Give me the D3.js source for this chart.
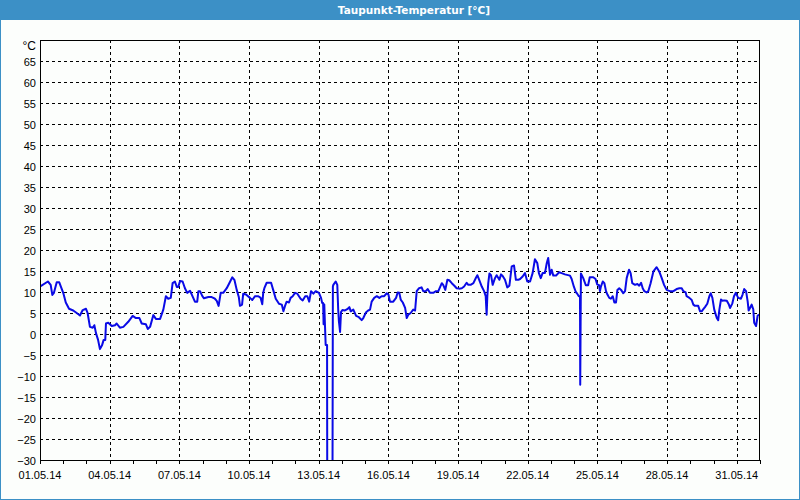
<!DOCTYPE html>
<html><head><meta charset="utf-8">
<script src="https://cdn.jsdelivr.net/npm/d3@7"></script>
<style>
html,body{margin:0;padding:0;background:#fcfefc;}
svg{display:block;}
text{font-family:"Liberation Sans",Arial,sans-serif;}
</style></head>
<body>
<svg id="chart" width="800" height="500"></svg>
<script>
const chartTitle = "Taupunkt-Temperatur [°C]";
const unitLabel = "°C";
// day of May 2014 (fractional), dew point °C
const dayOfMay = [1.03,1.34,1.46,1.53,1.60,1.72,1.83,2.00,2.11,2.25,2.43,2.58,2.72,2.84,2.98,3.05,3.15,3.27,3.34,3.41,3.50,3.58,3.67,3.74,3.81,3.84,3.94,4.09,4.23,4.30,4.44,4.59,4.80,4.99,5.13,5.28,5.38,5.56,5.64,5.74,5.88,5.99,6.17,6.31,6.42,6.52,6.63,6.71,6.81,6.89,6.95,7.03,7.14,7.24,7.34,7.46,7.54,7.67,7.77,7.82,7.89,7.99,8.06,8.25,8.39,8.53,8.61,8.69,8.78,8.89,9.04,9.15,9.28,9.37,9.47,9.56,9.61,9.70,9.75,9.87,10.04,10.14,10.26,10.40,10.50,10.57,10.61,10.66,10.76,10.95,11.04,11.15,11.29,11.41,11.48,11.55,11.62,11.72,11.79,11.88,11.98,12.08,12.22,12.31,12.42,12.51,12.59,12.67,12.77,12.87,13.01,13.10,13.15,13.19,13.21,13.24,13.27,13.30,13.36,13.37,13.59,13.61,13.63,13.73,13.80,13.84,13.87,13.92,13.96,14.02,14.13,14.23,14.32,14.38,14.49,14.61,14.73,14.85,14.92,15.04,15.13,15.21,15.28,15.39,15.50,15.61,15.71,15.82,15.93,16.00,16.07,16.21,16.33,16.40,16.47,16.53,16.62,16.72,16.79,16.86,16.96,17.07,17.15,17.22,17.32,17.43,17.50,17.61,17.69,17.79,17.93,18.05,18.15,18.30,18.36,18.45,18.54,18.62,18.73,18.84,18.94,19.04,19.16,19.26,19.37,19.44,19.54,19.66,19.77,19.83,19.91,20.02,20.12,20.19,20.23,20.26,20.30,20.35,20.42,20.49,20.59,20.66,20.78,20.85,20.92,21.02,21.12,21.21,21.31,21.41,21.49,21.59,21.67,21.78,21.88,21.98,22.10,22.21,22.31,22.41,22.48,22.56,22.64,22.74,22.82,22.88,22.96,23.03,23.10,23.22,23.35,23.46,23.60,23.82,23.89,23.99,24.07,24.13,24.20,24.25,24.26,24.29,24.39,24.50,24.60,24.67,24.82,24.92,24.99,25.07,25.11,25.15,25.23,25.30,25.37,25.43,25.51,25.58,25.66,25.73,25.80,25.86,25.94,26.02,26.11,26.19,26.26,26.36,26.43,26.50,26.62,26.72,26.80,26.88,26.95,27.02,27.12,27.19,27.29,27.41,27.55,27.66,27.77,27.87,27.98,28.12,28.27,28.41,28.53,28.63,28.70,28.80,28.84,28.96,29.06,29.13,29.20,29.34,29.42,29.49,29.56,29.63,29.73,29.82,29.88,29.95,30.03,30.14,30.20,30.25,30.32,30.39,30.46,30.57,30.66,30.71,30.81,30.88,30.96,31.06,31.18,31.25,31.32,31.40,31.47,31.51,31.57,31.64,31.71,31.75,31.83,31.90,31.97];
const dewPoint = [11.4,12.5,11.7,9.3,9.8,12.3,12.3,9.8,7.5,6.0,5.6,5.0,4.4,5.7,6.0,5.0,1.7,1.5,2.1,0.2,-1.4,-3.6,-2.7,-1.4,-1.4,2.5,2.7,1.9,2.1,2.5,1.5,1.7,2.9,4.3,3.8,3.8,2.5,2.3,1.2,1.7,4.5,3.6,3.6,5.8,9.0,8.4,8.6,12.1,12.5,11.2,11.2,12.6,12.5,10.9,9.8,10.3,9.3,7.7,7.7,10.2,10.2,9.0,8.5,8.8,8.8,8.4,7.9,6.7,9.8,9.8,10.9,12.1,13.5,12.9,10.5,8.8,6.7,7.0,9.6,9.4,8.6,8.1,9.0,9.0,8.6,7.1,9.8,10.9,12.2,12.2,10.5,8.4,7.2,7.0,5.4,6.7,7.7,7.5,8.6,9.0,9.8,9.6,8.4,8.0,9.0,9.0,7.7,10.2,9.6,10.2,9.8,8.6,7.4,7.4,2.3,7.0,2.0,-2.6,-2.6,-45,-45,11.3,11.7,12.5,11.7,5.7,3.0,0.5,5.2,5.7,5.6,5.9,6.4,5.4,5.8,4.3,4.0,3.3,3.8,5.2,5.6,5.8,7.7,8.6,9.0,8.6,9.0,9.0,9.7,9.4,7.7,7.7,8.6,9.9,9.8,8.2,7.5,6.2,3.8,4.6,5.0,5.8,5.6,10.2,10.9,11.1,10.2,10.2,10.7,9.8,9.8,10.2,10.2,12.1,11.7,10.5,12.9,12.8,12.1,11.5,10.9,10.8,10.9,11.3,12.2,11.7,11.7,12.1,13.4,14.0,12.9,11.3,10.2,9.0,4.6,9.0,12.1,14.4,14.0,11.7,13.3,14.0,12.9,14.2,13.8,12.9,11.1,11.5,16.1,16.3,12.9,12.9,13.1,13.7,14.5,12.5,12.5,14.5,17.8,16.9,14.5,13.3,14.5,14.5,16.9,18.1,14.1,15.3,13.9,13.9,14.7,14.5,14.2,13.9,13.1,11.2,10.0,9.6,9.0,9.0,-12.1,14.4,13.3,11.6,11.6,13.5,13.5,13.1,11.8,11.6,10.2,11.3,12.5,12.1,10.2,9.4,8.6,8.4,9.0,7.5,7.5,10.5,10.9,10.5,9.7,10.2,13.3,15.3,14.5,12.1,11.7,11.9,11.5,12.2,10.9,10.2,9.9,10.2,12.1,14.9,15.9,14.9,13.3,11.7,10.5,10.2,10.2,10.7,10.9,10.9,10.2,9.9,9.0,8.6,8.1,7.0,6.7,6.7,5.4,5.4,5.9,6.4,7.2,9.0,9.7,8.6,5.8,3.8,3.3,5.8,8.2,7.9,8.0,7.9,7.0,6.2,7.3,9.0,9.8,8.6,8.4,9.4,10.7,10.2,7.7,5.6,6.2,7.0,5.9,2.7,1.9,4.4,4.6];
const yTicks = [65,60,55,50,45,40,35,30,25,20,15,10,5,0,-5,-10,-15,-20,-25,-30];
const xTickLabels = ["01.05.14","04.05.14","07.05.14","10.05.14","13.05.14","16.05.14","19.05.14","22.05.14","25.05.14","28.05.14","31.05.14"];
const yDomain = [-30, 70];

const W = 800, H = 500;
const m = {left:40, right:40, top:40, bottom:40};
const svg = d3.select("#chart");

const start = new Date(2014,4,1), end = new Date(2014,5,1);
const toDate = d => new Date(start.getTime() + (d-1)*86400000);
const parseLabel = s => { const [dd,mm,yy] = s.split("."); return new Date(2000+ +yy, +mm-1, +dd); };

const x = d3.scaleTime().domain([start,end]).range([m.left, W-m.right]);
const y = d3.scaleLinear().domain(yDomain).range([H-m.bottom, m.top]);

// background & frame
svg.append("rect").attr("x",0).attr("y",0).attr("width",W).attr("height",H).attr("fill","#fcfefc");
svg.append("rect").attr("x",0.5).attr("y",0.5).attr("width",W-1).attr("height",H-1)
  .attr("fill","none").attr("stroke","#3c90c6").attr("stroke-width",1);
svg.append("rect").attr("x",0).attr("y",0).attr("width",W).attr("height",20).attr("fill","#3c90c6");
svg.append("text").attr("x",414).attr("y",14).attr("text-anchor","middle")
  .attr("fill","#ffffff").attr("font-weight","bold").attr("font-size","10.5px")
  .style("font-family","'DejaVu Sans',Verdana,sans-serif").text(chartTitle);

// grid
const gridG = svg.append("g").attr("stroke","#000").attr("stroke-dasharray","3,3").attr("shape-rendering","crispEdges");
gridG.selectAll("line.h").data(yTicks).join("line")
  .attr("x1",m.left).attr("x2",W-m.right)
  .attr("y1",d=>Math.round(y(d))+0.5).attr("y2",d=>Math.round(y(d))+0.5);
const xLabelDates = xTickLabels.map(parseLabel);
gridG.selectAll("line.v").data(xLabelDates.slice(1)).join("line")
  .attr("y1",m.top).attr("y2",H-m.bottom)
  .attr("x1",d=>Math.round(x(d))+0.5).attr("x2",d=>Math.round(x(d))+0.5);

// line
svg.append("clipPath").attr("id","clip").append("rect")
  .attr("x",m.left).attr("y",m.top).attr("width",W-m.left-m.right).attr("height",H-m.top-m.bottom);
const pts = dayOfMay.map((d,i)=>({t:toDate(d), v:dewPoint[i]}));
svg.append("path").datum(pts).attr("clip-path","url(#clip)")
  .attr("fill","none").attr("stroke","#0a0ae6").attr("stroke-width",2).attr("stroke-linejoin","round")
  .attr("d", d3.line().x(d=>x(d.t)).y(d=>y(d.v)));

// frame of plot
svg.append("rect").attr("x",m.left+0.5).attr("y",m.top+0.5)
  .attr("width",W-m.left-m.right-1).attr("height",H-m.top-m.bottom)
  .attr("fill","none").attr("stroke","#000").attr("shape-rendering","crispEdges");

// x axis: daily ticks, labels every 3 days
const xAxis = d3.axisBottom(x).ticks(d3.timeDay.every(1)).tickSize(4).tickFormat("");
const xg = svg.append("g").attr("transform",`translate(0,${H-m.bottom})`).call(xAxis);
xg.select(".domain").remove();
xg.selectAll("line").attr("stroke","#000").attr("shape-rendering","crispEdges");
svg.append("g").selectAll("text").data(xTickLabels).join("text")
  .attr("x",d=>x(parseLabel(d))).attr("y",H-m.bottom+19).attr("text-anchor","middle")
  .attr("font-size","11px").attr("fill","#000").text(d=>d);

// y axis labels
const yAxis = d3.axisLeft(y).tickValues(yTicks).tickSize(0).tickPadding(4);
const yg = svg.append("g").attr("transform",`translate(${m.left},0)`).call(yAxis);
yg.select(".domain").remove();
yg.selectAll("text").attr("font-size","11px").attr("fill","#000")
  .style("font-family","'Liberation Sans',Arial,sans-serif").attr("dy","0.45em");
svg.append("text").attr("x",m.left-4).attr("y",y(yDomain[1])+10).attr("text-anchor","end")
  .attr("font-size","12px").attr("fill","#000").text(unitLabel);
</script>
</body></html>
